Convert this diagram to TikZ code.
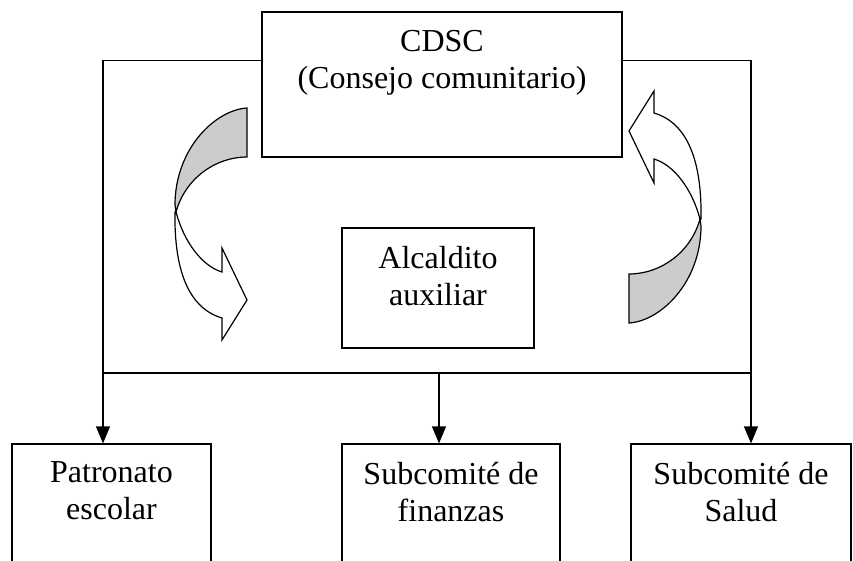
\documentclass[tikz,border=0pt]{standalone}
\usepackage{fontspec}
\setmainfont{Liberation Serif}
\usepackage{tikz}
\usetikzlibrary{arrows.meta,positioning}
\definecolor{shade}{RGB}{204,204,204}
\tikzstyle{unit} = [rectangle, draw=black, minimum height=145pt]
\tikzstyle{label} = [inner sep=0pt, align=center, font=\fontsize{32}{37}\selectfont]
\tikzstyle{arrow} = [-{Triangle[length=17pt,width=14pt]}]
% curved arrow, drawn round its own centre
\newcommand{\turnarrow}{%
  \filldraw[fill=shade] (37,-116) .. controls (5,-114) and (-35,-75) .. (-35,-19) -- (-34,-12) .. controls (-25,-45) and (5,-67) .. (37,-67) -- cycle;
  \filldraw[fill=white] (-34,-12) .. controls (-26,18) and (-8,42) .. (12,48) -- (12,24) -- (37,76) -- (12,116) -- (12,94) .. controls (-22,84) and (-36,45) .. (-35,-12) -- cycle;
}

\begin{document}
\begin{tikzpicture}[x=1pt, y=-1pt, line width=1.2pt]
\useasboundingbox (0,0) rectangle (853,561);
\clip (0,0) rectangle (853,561);

\node (cdsc) [unit, minimum width=360pt] at (442,84.5) {};
\node (cdsctext) [label, below=18pt of cdsc.north] {CDSC\\(Consejo comunitario)};

\node (alcalde) [unit, minimum width=192pt, minimum height=120pt] at (438,288) {};
\node (alcaldetext) [label, below=18pt of alcalde.north] {Alcaldito\\auxiliar};

\node (patronato) [unit, minimum width=199pt, minimum height=160pt] at (111.5,524) {};
\node (patronatotext) [label, below=18pt of patronato.north] {Patronato\\escolar};

\node (finanzas) [unit, minimum width=218pt, minimum height=160pt] at (451,524) {};
\node (finanzastext) [label, below=18pt of finanzas.north] {Subcomité de\\finanzas};

\node (salud) [unit, minimum width=220pt, minimum height=160pt] at (741,524) {};
\node (saludtext) [label, below=18pt of salud.north] {Subcomité de\\Salud};

\coordinate (busl) at (103,373);
\coordinate (busm) at (439,373);
\coordinate (busr) at (751,373);

\draw [arrow] ([yshift=-49pt]cdsc.north west) -| (busl) -- (busl |- patronato.north);
\draw [arrow] ([yshift=-49pt]cdsc.north east) -| (busr) -- (busr |- salud.north);
\draw (busl) -- (busr);
\draw [arrow] (busm) -- (busm |- finanzas.north);

\begin{scope}[shift={(210,224)}]
\turnarrow
\end{scope}
\begin{scope}[shift={(666,207)}, rotate=180]
\turnarrow
\end{scope}

\end{tikzpicture}
\end{document}
